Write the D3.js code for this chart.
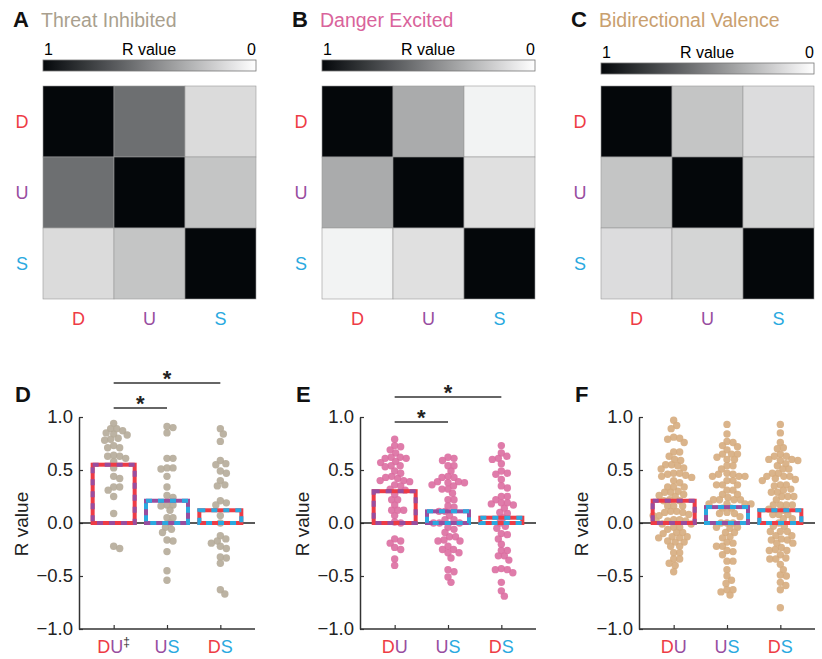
<!DOCTYPE html>
<html>
<head>
<meta charset="utf-8">
<script src="https://cdn.jsdelivr.net/npm/d3@7"></script>
<style>
  body { margin: 0; background: #fff; }
  text { font-family: "Liberation Sans", Arial, sans-serif; }
</style>
</head>
<body>
<div id="fig"></div>
<script>
// ---- data ----
var conds = ["D", "U", "S"];
var groups = ["DU", "US", "DS"];

var panelLetters = ["A", "B", "C"];
var panelTitles = ["Threat Inhibited", "Danger Excited", "Bidirectional Valence"];
var titleColors = ["#a99f8e", "#d9639b", "#c9a06f"];

// correlation matrices (R value) read from the gray levels
var corrThreat = [[1, 0.58, 0.145], [0.58, 1, 0.235], [0.145, 0.235, 1]];
var corrDanger = [[1, 0.34, 0.05], [0.34, 1, 0.125], [0.05, 0.125, 1]];
var corrValence = [[1, 0.235, 0.14], [0.235, 1, 0.17], [0.14, 0.17, 1]];

// bar heights (means)
var meanThreat = [0.55, 0.21, 0.12];
var meanDanger = [0.30, 0.11, 0.05];
var meanValence = [0.21, 0.15, 0.12];

// individual neuron R values
var threatDU = [0.94, 0.89, 0.89, 0.87, 0.85, 0.84, 0.83, 0.80, 0.79, 0.78, 0.73, 0.71, 0.71, 0.64, 0.63, 0.63, 0.61, 0.58, 0.52, 0.44, 0.42, 0.34, 0.34, 0.31, 0.25, 0.09, -0.22, -0.24];
var threatUS = [0.91, 0.90, 0.85, 0.61, 0.61, 0.52, 0.52, 0.51, 0.44, 0.34, 0.26, 0.24, 0.17, 0.17, 0.16, 0.12, 0.05, 0.05, 0.0, -0.04, -0.06, -0.09, -0.16, -0.17, -0.27, -0.45, -0.54];
var threatDS = [0.89, 0.84, 0.77, 0.59, 0.56, 0.55, 0.49, 0.47, 0.40, 0.36, 0.35, 0.21, 0.19, 0.17, 0.07, 0.0, -0.12, -0.15, -0.17, -0.19, -0.22, -0.24, -0.32, -0.33, -0.38, -0.63, -0.67];

var dangerDU = [0.79, 0.73, 0.72, 0.69, 0.66, 0.62, 0.62, 0.61, 0.61, 0.58, 0.57, 0.54, 0.54, 0.53, 0.49, 0.47, 0.44, 0.43, 0.42, 0.40, 0.40, 0.39, 0.36, 0.35, 0.32, 0.31, 0.27, 0.22, 0.22, 0.17, 0.12, 0.12, 0.12, 0.07, 0.01, 0.0, -0.15, -0.17, -0.19, -0.23, -0.25, -0.34, -0.40];
var dangerUS = [0.62, 0.61, 0.59, 0.54, 0.54, 0.49, 0.44, 0.43, 0.43, 0.39, 0.39, 0.38, 0.38, 0.36, 0.35, 0.32, 0.32, 0.28, 0.22, 0.22, 0.16, 0.15, 0.11, 0.11, 0.07, 0.03, 0.03, 0.0, 0.0, 0.0, -0.04, -0.06, -0.09, -0.13, -0.13, -0.16, -0.17, -0.17, -0.22, -0.25, -0.25, -0.28, -0.28, -0.33, -0.44, -0.46, -0.51, -0.56];
var dangerDS = [0.73, 0.66, 0.63, 0.61, 0.60, 0.56, 0.49, 0.47, 0.46, 0.41, 0.35, 0.33, 0.25, 0.25, 0.22, 0.19, 0.19, 0.18, 0.17, 0.14, 0.10, 0.09, 0.05, 0.0, -0.03, -0.05, -0.10, -0.11, -0.15, -0.20, -0.26, -0.26, -0.31, -0.31, -0.35, -0.43, -0.44, -0.44, -0.47, -0.56, -0.64, -0.69];

var valenceDU = [0.97, 0.92, 0.89, 0.81, 0.80, 0.79, 0.76, 0.67, 0.67, 0.63, 0.60, 0.59, 0.55, 0.55, 0.54, 0.52, 0.51, 0.47, 0.47, 0.46, 0.45, 0.44, 0.43, 0.40, 0.38, 0.34, 0.34, 0.34, 0.30, 0.29, 0.29, 0.27, 0.26, 0.25, 0.22, 0.21, 0.21, 0.16, 0.16, 0.16, 0.11, 0.11, 0.10, 0.10, 0.08, 0.07, 0.07, 0.03, 0.03, 0.02, 0.02, 0.02, -0.01, -0.01, -0.04, -0.04, -0.06, -0.09, -0.09, -0.10, -0.13, -0.13, -0.14, -0.14, -0.17, -0.18, -0.18, -0.22, -0.22, -0.28, -0.28, -0.34, -0.34, -0.38, -0.40, -0.46];
var valenceUS = [0.93, 0.84, 0.77, 0.76, 0.73, 0.72, 0.69, 0.65, 0.65, 0.65, 0.62, 0.60, 0.60, 0.54, 0.54, 0.51, 0.47, 0.46, 0.46, 0.44, 0.44, 0.44, 0.40, 0.40, 0.36, 0.36, 0.36, 0.31, 0.31, 0.27, 0.27, 0.24, 0.22, 0.22, 0.22, 0.22, 0.18, 0.18, 0.18, 0.18, 0.14, 0.14, 0.10, 0.09, 0.09, 0.06, 0.0, 0.0, 0.0, -0.04, -0.04, -0.05, -0.09, -0.09, -0.13, -0.14, -0.18, -0.19, -0.22, -0.22, -0.26, -0.27, -0.30, -0.36, -0.36, -0.44, -0.50, -0.54, -0.57, -0.63, -0.63, -0.65, -0.68];
var valenceDS = [0.93, 0.85, 0.76, 0.71, 0.70, 0.65, 0.63, 0.63, 0.60, 0.60, 0.59, 0.59, 0.56, 0.54, 0.51, 0.51, 0.47, 0.47, 0.44, 0.44, 0.44, 0.42, 0.41, 0.40, 0.36, 0.36, 0.35, 0.32, 0.31, 0.29, 0.29, 0.25, 0.25, 0.25, 0.22, 0.17, 0.17, 0.17, 0.17, 0.13, 0.12, 0.08, 0.08, 0.08, 0.04, 0.04, 0.0, -0.03, -0.03, -0.08, -0.08, -0.08, -0.12, -0.12, -0.15, -0.16, -0.16, -0.19, -0.19, -0.23, -0.25, -0.26, -0.26, -0.30, -0.33, -0.34, -0.34, -0.39, -0.44, -0.49, -0.50, -0.56, -0.59, -0.63, -0.80];

var yTicks = [1.0, 0.5, 0.0, -0.5, -1.0];
// significance brackets: [from group, to group]
var sigThreat = [["DU", "US"], ["DU", "DS"]];
var sigDanger = [["DU", "US"], ["DU", "DS"]];
var sigValence = [];

// ---- styling / layout ----
var condColor = { D: "#ee3b45", U: "#984d9f", S: "#2aa9e0" };
var dotColors = ["#b5ab99", "#dc6ea1", "#d6ac7e"];

var svg = d3.select("#fig").append("svg")
    .attr("width", 822).attr("height", 659);

var gray = d3.scaleLinear().domain([1, 0]).range(["#04070a", "#ffffff"]);

var defs = svg.append("defs");
var grad = defs.append("linearGradient").attr("id", "cbar");
d3.range(0, 1.01, 0.1).forEach(function(t) {
    grad.append("stop").attr("offset", t).attr("stop-color", gray(1 - t));
});

// ---- top row: heatmaps ----
var heatX = [43, 322, 601];
var cbarY = [60, 60, 63];
var mats = [corrThreat, corrDanger, corrValence];

mats.forEach(function(mat, p) {
    var g = svg.append("g");
    var x0 = heatX[p];
    var band = d3.scaleBand().domain(conds).range([0, 213]);

    g.append("text").attr("x", x0 - 30).attr("y", 27)
        .attr("font-size", 22).attr("font-weight", "bold").attr("fill", "#111")
        .text(panelLetters[p]);
    g.append("text").attr("x", x0 - 2).attr("y", 27)
        .attr("font-size", 19.5).attr("fill", titleColors[p])
        .text(panelTitles[p]);

    // colorbar
    var cy = cbarY[p];
    g.append("rect").attr("x", x0).attr("y", cy).attr("width", 213).attr("height", 11)
        .attr("fill", "url(#cbar)").attr("stroke", "#777").attr("stroke-width", 0.8);
    g.append("text").attr("x", x0 + 1).attr("y", cy - 5).attr("font-size", 16).text("1");
    g.append("text").attr("x", x0 + 106).attr("y", cy - 5).attr("font-size", 16)
        .attr("text-anchor", "middle").text("R value");
    g.append("text").attr("x", x0 + 213).attr("y", cy - 5).attr("font-size", 16)
        .attr("text-anchor", "end").text("0");

    var cells = [];
    mat.forEach(function(row, i) {
        row.forEach(function(v, j) { cells.push({ r: conds[i], c: conds[j], v: v }); });
    });
    g.selectAll("rect.cell").data(cells).enter().append("rect")
        .attr("class", "cell")
        .attr("x", function(d) { return x0 + band(d.c); })
        .attr("y", function(d) { return 86 + band(d.r); })
        .attr("width", band.bandwidth()).attr("height", band.bandwidth())
        .attr("fill", function(d) { return gray(d.v); })
        .attr("stroke", "#999").attr("stroke-width", 0.6);

    g.selectAll("text.row").data(conds).enter().append("text")
        .attr("x", x0 - 21).attr("y", function(d) { return 86 + band(d) + band.bandwidth() / 2 + 6.5; })
        .attr("text-anchor", "middle").attr("font-size", 18)
        .attr("fill", function(d) { return condColor[d]; }).text(function(d) { return d; });
    g.selectAll("text.col").data(conds).enter().append("text")
        .attr("x", function(d) { return x0 + band(d) + band.bandwidth() / 2; }).attr("y", 325)
        .attr("text-anchor", "middle").attr("font-size", 18)
        .attr("fill", function(d) { return condColor[d]; }).text(function(d) { return d; });
});

// ---- bottom row: swarm + bars ----
var axX = [79, 360, 639];
var bottomLetters = ["D", "E", "F"];
var points = [[threatDU, threatUS, threatDS], [dangerDU, dangerUS, dangerDS], [valenceDU, valenceUS, valenceDS]];
var means = [meanThreat, meanDanger, meanValence];
var sigs = [sigThreat, sigDanger, sigValence];
var sigY = [[408, 383], [422, 397], []];
var barCols = { DU: ["#ee3b45", "#984d9f"], US: ["#984d9f", "#2aa9e0"], DS: ["#ee3b45", "#2aa9e0"] };

function swarm(vals, y, r) {
    var placed = [];
    vals.forEach(function(v) {
        var py = y(v), best = 0;
        for (var k = 0; k < 600; k++) {
            var off = (k % 2 ? 1 : -1) * Math.ceil(k / 2) * 0.5;
            var ok = placed.every(function(p) {
                var dx = p.dx - off, dy = p.y - py;
                return dx * dx + dy * dy >= 4 * r * r;
            });
            if (ok) { best = off; break; }
        }
        placed.push({ dx: best, y: py, v: v });
    });
    return placed;
}

points.forEach(function(grp, p) {
    var g = svg.append("g");
    var x0 = axX[p];
    var y = d3.scaleLinear().domain([-1, 1]).range([629, 417]);
    var x = d3.scalePoint().domain(groups).range([x0, x0 + 176]).padding(0.65);

    g.append("text").attr("x", x0 - 64).attr("y", 402)
        .attr("font-size", 22).attr("font-weight", "bold").attr("fill", "#111")
        .text(bottomLetters[p]);

    var yAxis = g.append("g").attr("transform", "translate(" + x0 + ",0)")
        .call(d3.axisLeft(y).tickValues(yTicks).tickFormat(d3.format(".1f"))
            .tickSizeInner(-4).tickSizeOuter(0).tickPadding(6));
    yAxis.select(".domain").attr("stroke", "#333").attr("stroke-width", 1.5);
    yAxis.selectAll(".tick line").attr("stroke", "#333").attr("stroke-width", 1.2);
    yAxis.selectAll("text").attr("font-size", 18.5).attr("fill", "#222")
        .style("font-family", "'Liberation Sans', Arial, sans-serif");

    var xAxis = g.append("g").attr("transform", "translate(0,629)")
        .call(d3.axisBottom(x).tickSizeInner(-4).tickSizeOuter(0).tickFormat(""));
    xAxis.select(".domain").attr("d", "M" + x0 + ",0H" + (x0 + 176))
        .attr("stroke", "#333").attr("stroke-width", 1.5);
    xAxis.selectAll(".tick line").attr("stroke", "#333").attr("stroke-width", 1.2);

    g.append("text").attr("transform", "translate(" + (x0 - 51) + ",524) rotate(-90)")
        .attr("text-anchor", "middle").attr("font-size", 19).attr("fill", "#222")
        .text("R value");

    // dots
    grp.forEach(function(vals, gi) {
        var sw = swarm(vals, y, 3.0);
        g.selectAll(null).data(sw).enter().append("circle")
            .attr("cx", function(d) { return x(groups[gi]) + d.dx; })
            .attr("cy", function(d) { return d.y; })
            .attr("r", 3.7)
            .attr("fill", dotColors[p]).attr("fill-opacity", 0.9);
    });

    // zero line
    g.append("line").attr("x1", x0).attr("x2", x0 + 176)
        .attr("y1", y(0)).attr("y2", y(0)).attr("stroke", "#222").attr("stroke-width", 1.5);

    // striped bars
    var bars = groups.map(function(k, i) { return { k: k, v: means[p][i] }; });
    [0, 1].forEach(function(layer) {
        g.selectAll(null).data(bars).enter().append("rect")
            .attr("x", function(d) { return x(d.k) - 21; })
            .attr("y", function(d) { return y(d.v); })
            .attr("width", 42)
            .attr("height", function(d) { return y(0) - y(d.v); })
            .attr("fill", "none")
            .attr("stroke", function(d) { return barCols[d.k][layer]; })
            .attr("stroke-width", 4)
            .attr("stroke-dasharray", layer ? "6,6" : null);
    });

    // x labels
    groups.forEach(function(k) {
        var t = g.append("text").attr("x", x(k)).attr("y", 653)
            .attr("text-anchor", "middle").attr("font-size", 18);
        k.split("").forEach(function(ch) {
            t.append("tspan").attr("fill", condColor[ch]).text(ch);
        });
        if (p === 0 && k === "DU") {
            t.append("tspan").attr("fill", "#333").attr("font-size", 12)
                .attr("dy", -7).text("\u2021");
        }
    });

    // significance
    sigs[p].forEach(function(s, si) {
        var ly = sigY[p][si];
        var xa = x(s[0]), xb = x(s[1]);
        g.append("line").attr("x1", xa).attr("x2", xb).attr("y1", ly).attr("y2", ly)
            .attr("stroke", "#333").attr("stroke-width", 1.5);
        g.append("text").attr("x", (xa + xb) / 2).attr("y", ly + 3)
            .attr("text-anchor", "middle").attr("font-size", 22).attr("font-weight", "bold")
            .attr("fill", "#222").text("*");
    });
});
</script>
</body>
</html>
